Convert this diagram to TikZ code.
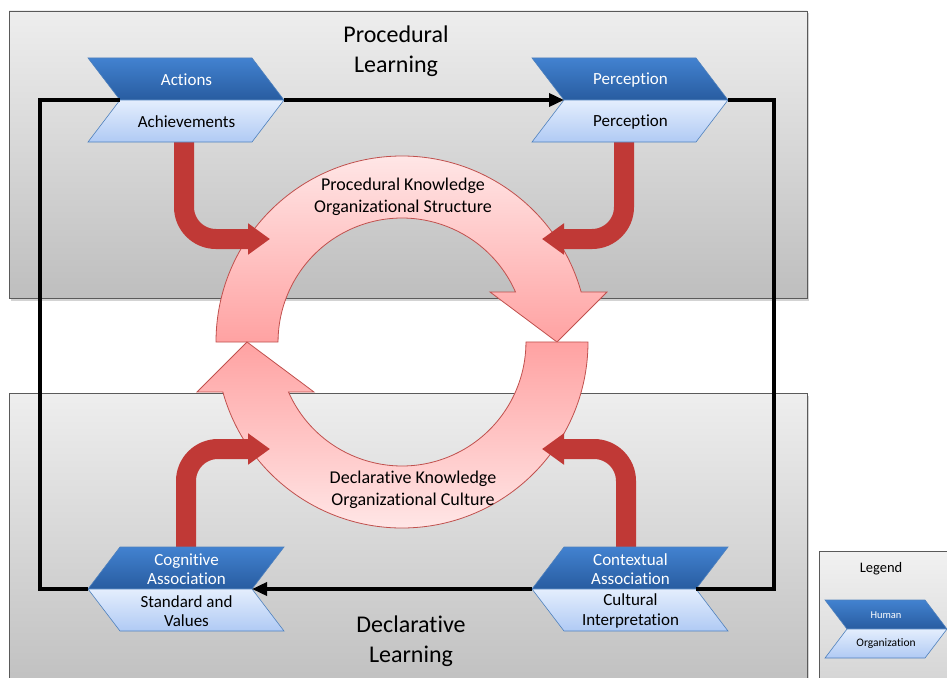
\documentclass[tikz,border=0pt]{standalone}
\usepackage{fontspec}
\setmainfont{Carlito}[Ligatures=NoCommon]
\usetikzlibrary{arrows.meta,shadows}

\definecolor{panelTop}{RGB}{238,238,238}
\definecolor{panelBot}{RGB}{190,190,190}
\definecolor{panelEdge}{RGB}{90,90,90}
\definecolor{chevDarkTop}{RGB}{66,130,208}
\definecolor{chevDarkBot}{RGB}{40,92,160}
\definecolor{chevLightTop}{RGB}{228,238,253}
\definecolor{chevLightBot}{RGB}{176,202,244}
\definecolor{chevEdge}{RGB}{79,129,189}
\definecolor{ringLight}{RGB}{255,230,230}
\definecolor{ringDark}{RGB}{255,162,162}
\definecolor{ringEdge}{RGB}{192,80,77}
\definecolor{flowRed}{RGB}{192,57,54}

% right-pointing chevron: left x, top y, width, slant, half height
\newcommand{\RightChevron}[5]{%
  \draw[chevedge, top color=chevDarkTop, bottom color=chevDarkBot]
    (#1,#2) -- ++(#3,0) -- ++(#4,#5) -- ++(-#3,0) -- cycle;
  \draw[chevedge, top color=chevLightTop, bottom color=chevLightBot]
    ({#1+#4},{#2+#5}) -- ++(#3,0) -- ++(-#4,#5) -- ++(-#3,0) -- cycle;
}
% left-pointing chevron: tip x, top y, width, slant, half height
\newcommand{\LeftChevron}[5]{%
  \draw[chevedge, top color=chevDarkTop, bottom color=chevDarkBot]
    ({#1+#4},#2) -- ++(#3,0) -- ++(-#4,#5) -- ++(-#3,0) -- cycle;
  \draw[chevedge, top color=chevLightTop, bottom color=chevLightBot]
    (#1,{#2+#5}) -- ++(#3,0) -- ++(#4,#5) -- ++(-#3,0) -- cycle;
}

\begin{document}
\begin{tikzpicture}[x=1pt,y=-1pt,
  panel/.style={draw=panelEdge, line width=0.8pt, top color=panelTop, bottom color=panelBot,
    drop shadow={opacity=0.35, shadow xshift=1.5pt, shadow yshift=-2.5pt}},
  legendbox/.style={draw=panelEdge, line width=0.8pt, top color=panelTop!80!white, bottom color=panelTop!40!panelBot},
  chevedge/.style={draw=chevEdge, line width=0.6pt},
  ringpart/.style={draw=ringEdge, line width=0.8pt},
  redflow/.style={draw=flowRed, line width=20pt, rounded corners=32pt,
    -{Triangle[length=22pt,width=30pt]}},
  loopline/.style={draw=black, line width=3.5pt, line join=miter},
  loopend/.style={-{Triangle[length=15pt,width=13pt]}},
  txtW/.style={text=white, align=center, font=\fontsize{17}{19.5}\selectfont, inner sep=0pt},
  txtK/.style={text=black, align=center, font=\fontsize{17}{19.5}\selectfont, inner sep=0pt},
  title/.style={align=center, font=\fontsize{24}{30}\selectfont, inner sep=0pt},
  ringtxt/.style={align=center, font=\fontsize{18}{21.5}\selectfont, inner sep=0pt}
]
\useasboundingbox (0,0) rectangle (947,677);

% background panels
\path[panel] (9,11) rectangle (807,298);
\path[panel] (9,393) rectangle (807,700);
\path[legendbox] (819,551) rectangle (960,700);

% circular knowledge cycle
\path[ringpart, top color=ringLight, bottom color=ringDark]
  (216,342) arc[start angle=180, end angle=344.4, radius=186]
  -- (607,292) -- (557,342) -- (490,292) -- (515.5,292)
  arc[start angle=336.2, end angle=180, radius=124] -- cycle;
\path[ringpart, top color=ringDark, bottom color=ringLight]
  (588,342) arc[start angle=0, end angle=164.4, radius=186]
  -- (197,392) -- (247,342) -- (314,392) -- (288.5,392)
  arc[start angle=156.2, end angle=0, radius=124] -- cycle;

% anchor points of the red feed arrows
\coordinate (actFoot) at (184,140);
\coordinate (perFoot) at (624,140);
\coordinate (cogHead) at (186,549);
\coordinate (ctxHead) at (626,549);
\coordinate (ringTL) at (270,239);
\coordinate (ringTR) at (542,239);
\coordinate (ringBL) at (270,449);
\coordinate (ringBR) at (542,449);

\draw[redflow] (actFoot) |- (ringTL);
\draw[redflow] (perFoot) |- (ringTR);
\draw[redflow] (cogHead) |- (ringBL);
\draw[redflow] (ctxHead) |- (ringBR);

% chevrons
\RightChevron{88}{58}{164}{32}{42}
\RightChevron{532}{58}{164}{32}{42}
\LeftChevron{88}{547}{164}{32}{42}
\LeftChevron{532}{547}{164}{32}{42}
\RightChevron{825}{600}{100}{22}{29}

\node[txtW] (actions) at (186.5,80) {Actions};
\node[txtK] (achieve) at (186.5,122) {Achievements};
\node[txtW] (perc) at (630.5,80) {Perception};
\node[txtK] (perc2) at (630.5,122) {Perception};
\node[txtW] (cogn) at (186.5,569) {Cognitive\\Association};
\node[txtK] (stand) at (186.5,611) {Standard and\\Values};
\node[txtW] (ctx) at (630.5,569) {Contextual\\Association};
\node[txtK] (cult) at (630.5,611) {Cultural\\Interpretation};

% connection points of the outer loop
\coordinate (actIn) at (120,100);
\coordinate (actOut) at (284,100);
\coordinate (perIn) at (564,100);
\coordinate (perOut) at (728,100);
\coordinate (ctxIn) at (696,589);
\coordinate (ctxOut) at (532,589);
\coordinate (cogIn) at (252,589);
\coordinate (cogOut) at (88,589);
\coordinate (cornerTR) at (774,100);
\coordinate (cornerBR) at (774,589);
\coordinate (cornerBL) at (40,589);
\coordinate (cornerTL) at (40,100);

\draw[loopline, loopend] (actOut) -- (perIn);
\draw[loopline] (perOut) -- (cornerTR) -- (cornerBR) -- (ctxIn);
\draw[loopline, loopend] (ctxOut) -- (cogIn);
\draw[loopline] (cogOut) -- (cornerBL) -- (cornerTL) -- (actIn);

% labels
\node[title] (proc) at (396,51) {Procedural\\Learning};
\node[title] (decl) at (411,641) {Declarative\\Learning};
\node[ringtxt] (pk) at (403,197) {Procedural Knowledge\\Organizational Structure};
\node[ringtxt] (dk) at (413,490) {Declarative Knowledge\\Organizational Culture};

% legend
\node[font=\fontsize{14.5}{16}\selectfont, inner sep=0pt] (legend) at (881,569) {Legend};
\node[text=white, font=\fontsize{10.5}{12}\selectfont, inner sep=0pt] (human) at (886,615) {Human};
\node[font=\fontsize{11.5}{13}\selectfont, inner sep=0pt] (org) at (886,644) {Organization};
\end{tikzpicture}
\end{document}
